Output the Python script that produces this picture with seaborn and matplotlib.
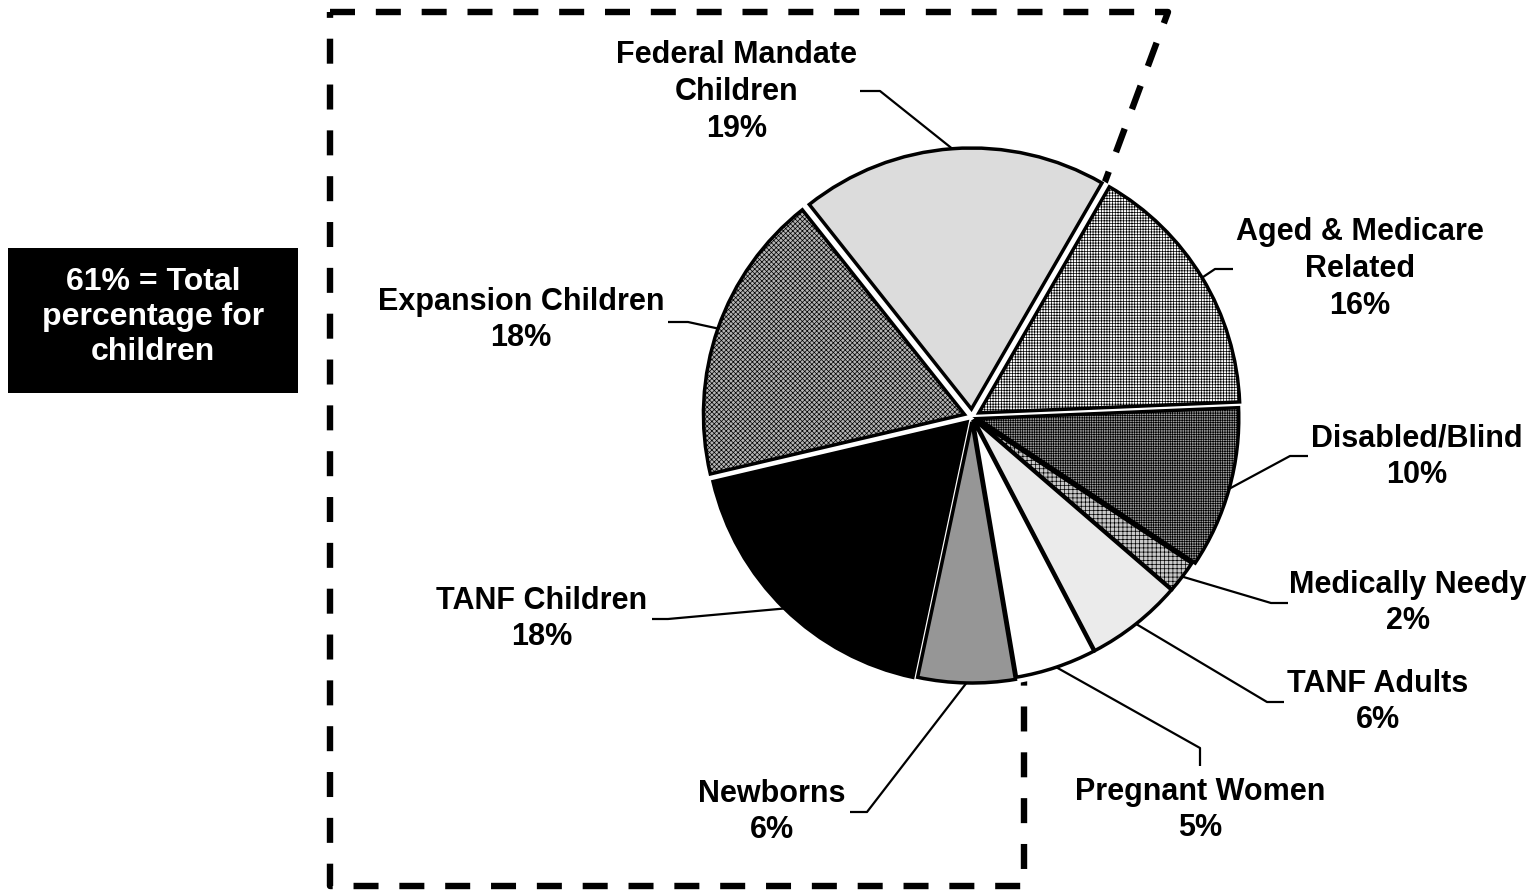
import numpy as np
import pandas as pd
import matplotlib
matplotlib.use("Agg")
import matplotlib.pyplot as plt
from matplotlib.patches import Rectangle, Circle
import seaborn as sns

# Medicaid eligibility groups and their share of the caseload (%)
categories = [
    "Federal Mandate\nChildren",
    "Aged & Medicare\nRelated",
    "Disabled/Blind",
    "Medically Needy",
    "TANF Adults",
    "Pregnant Women",
    "Newborns",
    "TANF Children",
    "Expansion Children",
]
shares = [19, 16, 10, 2, 6, 5, 6, 18, 18]
children_note = "61% = Total\npercentage for\nchildren"

df = pd.DataFrame({"group": categories, "share": shares})

sns.set_theme(style="white")
plt.rcParams["font.family"] = ["Liberation Sans", "DejaVu Sans"]
plt.rcParams["hatch.linewidth"] = 0.5
plt.rcParams["lines.scale_dashes"] = False

W, H = 1532, 894
fig = plt.figure(figsize=(W / 100, H / 100), dpi=100)
fig.patch.set_facecolor("white")
ax = fig.add_axes([0, 0, 1, 1])

# slice styling (grey fills with fine grid / check textures)
face = ["#dcdcdc", "#ffffff", "#a0a0a0", "#c8c8c8", "#ebebeb",
        "#ffffff", "#969696", "#000000", "#b4b4b4"]
hatches = [None, "++++++", "+++++++", "++++", None, None, None, None, "xxxxxxx"]
explode = [8, 8, 6, 3, 3, 3, 5, 7, 8]
center = (972, 417)
radius = 261

wedges, _ = ax.pie(
    df["share"], explode=explode, colors=face, startangle=-128.4,
    counterclock=True, center=center, radius=radius,
    wedgeprops=dict(edgecolor="black", linewidth=2.5, zorder=3),
)
for w, h in zip(wedges, hatches):
    if h:
        w.set_hatch(h)

# white disc under the slices masks the dashed outline inside the pie
ax.add_patch(Circle(center, radius + 9, facecolor="white", edgecolor="none", zorder=2))

# dashed outline around the children's groups
box_x = [330, 1168, 1024, 1024, 330, 330]
box_y = [12, 12, 400, 886, 886, 12]
ax.plot(box_x, box_y, color="black", lw=4.6, linestyle=(0, (18, 15)),
        solid_capstyle="butt", dash_capstyle="butt", zorder=1)

# label placement: text centre, elbow of leader, end of leader
label_xy = [(737, 92), (1360, 269), (1417, 457), (1408, 603), (1378, 702),
            (1200, 810), (772, 812), (542, 619), (521, 320)]
elbow_xy = [(880, 91), (1215, 269), (1290, 456), (1271, 603), (1267, 702),
            (1200, 748), (867, 812), (668, 619), (688, 322)]
end_xy = [(860, 91), (1233, 269), (1308, 456), (1288, 603), (1284, 702),
          (1200, 766), (850, 812), (652, 619), (668, 322)]

for w, name, val, (tx, ty), (ex, ey), (fx, fy) in zip(
        wedges, df["group"], df["share"], label_xy, elbow_xy, end_xy):
    mid = np.deg2rad((w.theta1 + w.theta2) / 2)
    sx = w.center[0] + w.r * np.cos(mid)
    sy = w.center[1] + w.r * np.sin(mid)
    ax.plot([sx, ex, fx], [sy, ey, fy], color="black", lw=1.6, zorder=2.5,
            solid_capstyle="butt")
    ax.text(tx, ty, f"{name}\n{val}%", ha="center", va="center",
            multialignment="center", fontsize=22, fontweight="bold",
            color="black", linespacing=1.3, zorder=4)

# summary box on the left
ax.add_patch(Rectangle((8, 248), 290, 145, facecolor="black",
                       edgecolor="none", zorder=3))
ax.text(153, 317, children_note, ha="center", va="center",
        multialignment="center", fontsize=23, fontweight="bold",
        color="white", linespacing=1.22, zorder=4)

ax.set_xlim(0, W)
ax.set_ylim(H, 0)
ax.set_aspect("equal")
ax.axis("off")

fig.savefig("out.png", dpi=100, facecolor="white")
